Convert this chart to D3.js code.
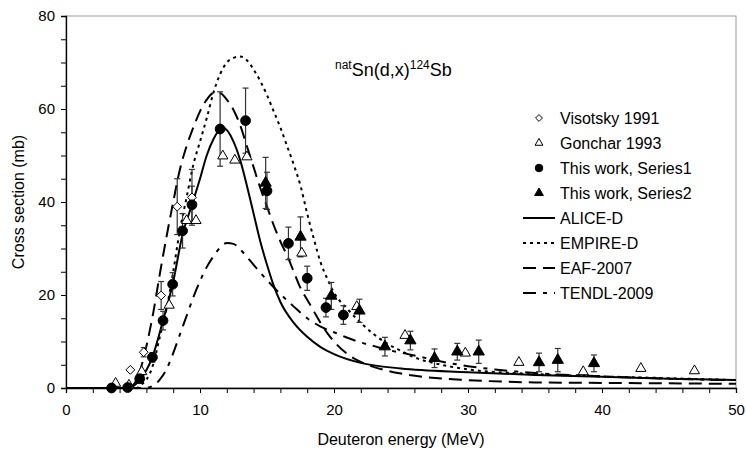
<!DOCTYPE html>
<html>
<head>
  <meta charset="utf-8">
  <script src="https://d3js.org/d3.v7.min.js"></script>
  <style>
    body { margin: 0; background: #fff; }
    text { font-family: "Liberation Sans", Arial, sans-serif; }
  </style>
</head>
<body>
  <svg id="chart" width="746" height="453"></svg>

  <script>
    // experimental data
    const visotskyE = [4.8, 5.8, 7.1, 8.3, 9.4];
    const visotskyS = [3.9, 7.7, 19.9, 39.0, 41.0];
    const visotskyErr = [0, 1, 3, 6, 6];

    const goncharE = [3.7, 4.7, 5.65, 7.7, 9.0, 9.7, 11.7, 12.6, 13.5, 17.6, 21.7, 25.3, 29.8, 33.8, 38.6, 42.9, 46.9];
    const goncharS = [1.0, 0.6, 3.5, 17.8, 36, 36, 49.9, 49, 49.7, 29, 17.5, 11.3, 7.5, 5.5, 3.5, 4.2, 3.7];

    const series1E = [3.4, 4.6, 5.5, 6.45, 7.24, 7.96, 8.7, 9.4, 11.5, 13.4, 15.0, 16.6, 18.0, 19.4, 20.7];
    const series1S = [0, 0.1, 2.0, 6.6, 14.5, 22.3, 33.8, 39.4, 55.7, 57.5, 42.4, 31.1, 23.6, 17.3, 15.7];
    const series1Err = [0, 0, 0.5, 1, 2, 2.5, 3.7, 4, 8, 7, 4, 3.5, 2.6, 2, 2];

    const series2E = [14.9, 17.5, 19.8, 21.9, 23.8, 25.7, 27.5, 29.2, 30.8, 35.3, 36.7, 39.4];
    const series2S = [44.1, 32.5, 19.8, 16.6, 8.9, 10.2, 6.4, 7.8, 7.8, 5.5, 6.0, 5.3];
    const series2Err = [5.5, 4.3, 2.9, 2.5, 2, 2, 2, 1.8, 2.5, 2, 2.5, 1.8];

    // model calculations
    const aliceE = [0, 4.6, 5.5, 6.45, 7.24, 7.96, 8.7, 9.4, 10, 10.5, 11, 11.7, 12.5, 13, 13.5, 14, 14.5, 15, 15.5, 16, 17, 18, 19, 20, 22, 25, 30, 35, 40, 45, 50];
    const aliceS = [0, 0, 1.7, 6.7, 14.5, 22.3, 33, 39.4, 45, 50, 53.5, 56, 53, 49, 43.5, 37.5, 31.5, 26.5, 22, 18.5, 14, 11, 8.8, 7.3, 5.4, 4.2, 3.4, 2.8, 2.4, 2.0, 1.7];

    const empireE = [0, 5.3, 5.5, 6, 6.5, 7, 7.5, 8, 8.5, 9, 9.5, 10, 10.5, 11, 11.5, 12, 12.5, 13, 13.5, 14, 14.5, 15, 15.5, 16, 16.5, 17, 17.5, 18, 18.5, 19, 19.5, 20, 21, 22, 23, 24, 25, 26, 28, 30, 35, 40, 45, 50];
    const empireS = [0, 0, 0.5, 1.8, 5, 11, 17, 25, 34, 41, 48, 53, 58, 63.5, 67.5, 70, 71, 71.3, 70.5, 68.5, 66, 63, 59.5, 56, 52, 48, 43.5, 37.5, 32, 27, 23.5, 20.5, 17, 14, 11.5, 9.5, 8, 6.6, 5, 4, 3, 2.5, 2.1, 1.7];

    const eafE = [0, 4.5, 5, 5.5, 6, 6.5, 7, 7.5, 8, 8.5, 9, 9.5, 10, 10.5, 11, 11.5, 12, 12.5, 13, 13.5, 14, 14.5, 15, 15.5, 16, 16.5, 17, 17.5, 18, 18.5, 19, 19.5, 20, 21, 22, 23, 24, 25, 27, 30, 35, 40, 45, 50];
    const eafS = [0, 0, 0.6, 3.5, 9, 16, 24.5, 32.5, 40, 47, 52, 56, 59.5, 62, 63.4, 63.4, 62, 59.8, 56.5, 52, 47.5, 43, 39, 35, 31.5, 28.5, 25, 21.5, 19, 16.5, 14, 11.8, 10, 7.3, 5.6, 4.5, 3.7, 3.1, 2.3, 1.7, 1.2, 1.1, 1.0, 0.9];

    const tendlE = [0, 6, 6.5, 7, 7.5, 8, 8.5, 9, 9.5, 10, 10.5, 11, 11.5, 12, 12.5, 13, 13.5, 14, 15, 16, 17, 18, 19, 20, 21, 22, 23, 24, 25, 26, 28, 30, 32, 35, 40, 45, 50];
    const tendlS = [0, 0, 0.5, 1.8, 4, 7.5, 11.5, 15.5, 19.5, 23, 26, 28.3, 30.2, 31.2, 31, 29.8, 28.2, 26.5, 23.2, 20.2, 17.5, 15, 13.2, 12, 10.8, 9.8, 9, 8.2, 7.6, 7, 5.7, 4.7, 4, 3.2, 2.5, 2, 1.7];

    const xTicks = [0, 10, 20, 30, 40, 50];
    const yTicks = [0, 20, 40, 60, 80];

    const width = 746;
    const height = 453;
    const margin = { top: 16, right: 10, bottom: 65, left: 66 };
    const svg = d3.select("#chart");

    const x = d3.scaleLinear().domain([0, 50]).range([margin.left, width - margin.right]);
    const y = d3.scaleLinear().domain([0, 80]).range([height - margin.bottom, margin.top]);

    // frame
    svg.append("rect")
      .attr("x", x(0)).attr("y", y(80))
      .attr("width", x(50) - x(0)).attr("height", y(0) - y(80))
      .attr("fill", "none").attr("stroke", "#999").attr("stroke-width", 1);

    // axes
    const xAxis = d3.axisBottom(x).tickValues(d3.range(0, 51, 2)).tickSize(5)
      .tickFormat(d => xTicks.includes(d) ? d : "");
    const gx = svg.append("g").attr("transform", `translate(0,${y(0)})`).call(xAxis);
    const yAxis = d3.axisLeft(y).tickValues(d3.range(0, 81, 5)).tickSize(5)
      .tickFormat(d => yTicks.includes(d) ? d : "");
    const gy = svg.append("g").attr("transform", `translate(${x(0)},0)`).call(yAxis);
    [gx, gy].forEach(g => {
      g.select(".domain").attr("stroke", "#000").attr("stroke-width", 1.3);
      g.selectAll(".tick line").attr("stroke", "#000");
      g.selectAll(".tick text").attr("font-size", 15).attr("font-family", "Liberation Sans, Arial, sans-serif").attr("fill", "#000");
    });
    gx.selectAll(".tick text").attr("dy", "1.25em");
    gy.selectAll(".tick text").attr("dx", "-0.2em");

    // axis titles
    svg.append("text")
      .attr("x", (x(0) + x(50)) / 2).attr("y", 445)
      .attr("text-anchor", "middle").attr("font-size", 16)
      .text("Deuteron energy (MeV)");
    svg.append("text")
      .attr("transform", `translate(24,${(y(0) + y(80)) / 2}) rotate(-90)`)
      .attr("text-anchor", "middle").attr("font-size", 16)
      .text("Cross section (mb)");

    // reaction label
    const title = svg.append("text").attr("x", 335).attr("y", 76).attr("font-size", 18);
    title.append("tspan").attr("font-size", 12).attr("dy", -7).text("nat");
    title.append("tspan").attr("dy", 7).text("Sn(d,x)");
    title.append("tspan").attr("font-size", 12).attr("dy", -7).text("124");
    title.append("tspan").attr("dy", 7).text("Sb");

    // model curves
    const models = [
      { name: "ALICE-D", e: aliceE, s: aliceS, dash: null },
      { name: "EMPIRE-D", e: empireE, s: empireS, dash: "3,4" },
      { name: "EAF-2007", e: eafE, s: eafS, dash: "13,7" },
      { name: "TENDL-2009", e: tendlE, s: tendlS, dash: "13,7,4,7" }
    ];
    const line = d3.line().x(d => x(d[0])).y(d => y(d[1])).curve(d3.curveMonotoneX);
    models.forEach(m => {
      svg.append("path")
        .datum(m.e.map((e, i) => [e, m.s[i]]))
        .attr("d", line)
        .attr("fill", "none")
        .attr("stroke", "#000")
        .attr("stroke-width", 2)
        .attr("stroke-dasharray", m.dash);
    });

    // error bars
    function errorBars(es, ss, errs) {
      es.forEach((e, i) => {
        if (!errs[i]) return;
        const g = svg.append("g").attr("stroke", "#333").attr("stroke-width", 1.2);
        g.append("line").attr("x1", x(e)).attr("x2", x(e)).attr("y1", y(ss[i] - errs[i])).attr("y2", y(ss[i] + errs[i]));
        [ss[i] - errs[i], ss[i] + errs[i]].forEach(v => {
          g.append("line").attr("x1", x(e) - 3).attr("x2", x(e) + 3).attr("y1", y(v)).attr("y2", y(v));
        });
      });
    }
    errorBars(visotskyE, visotskyS, visotskyErr);
    errorBars(series1E, series1S, series1Err);
    errorBars(series2E, series2S, series2Err);

    // markers
    const sets = [
      { name: "Visotsky 1991", e: visotskyE, s: visotskyS, type: d3.symbolDiamond2, size: 50, fill: "#fff" },
      { name: "Gonchar 1993", e: goncharE, s: goncharS, type: d3.symbolTriangle, size: 45, fill: "#fff" },
      { name: "This work, Series1", e: series1E, s: series1S, type: d3.symbolCircle, size: 75, fill: "#000" },
      { name: "This work, Series2", e: series2E, s: series2S, type: d3.symbolTriangle, size: 55, fill: "#000" }
    ];
    sets.forEach(st => {
      svg.append("g").selectAll("path")
        .data(st.e.map((e, i) => [e, st.s[i]]))
        .enter()
        .append("path")
        .attr("transform", d => `translate(${x(d[0])},${y(d[1])})`)
        .attr("d", d3.symbol().type(st.type).size(st.size))
        .attr("fill", st.fill)
        .attr("stroke", "#000")
        .attr("stroke-width", 1);
    });

    // legend
    const legend = svg.append("g");
    const rowY = i => 118 + i * 25;
    sets.forEach((st, i) => {
      legend.append("path")
        .attr("transform", `translate(539,${rowY(i)})`)
        .attr("d", d3.symbol().type(st.type).size(st.size * 0.6))
        .attr("fill", st.fill).attr("stroke", "#000").attr("stroke-width", 1);
      legend.append("text").attr("x", 560).attr("y", rowY(i) + 6).attr("font-size", 16).text(st.name);
    });
    models.forEach((m, i) => {
      const yy = rowY(i + 4);
      legend.append("line")
        .attr("x1", 523).attr("x2", 555).attr("y1", yy).attr("y2", yy)
        .attr("stroke", "#000").attr("stroke-width", 2).attr("stroke-dasharray", m.dash);
      legend.append("text").attr("x", 560).attr("y", yy + 6).attr("font-size", 16).text(m.name);
    });
  </script>
</body>
</html>
